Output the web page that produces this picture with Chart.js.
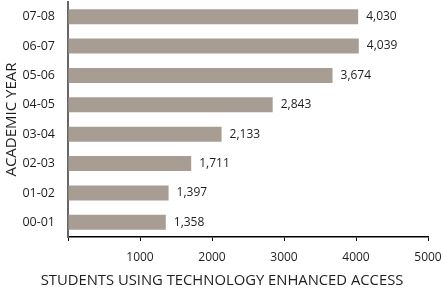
<!DOCTYPE html>
<html>
<head>
<meta charset="utf-8">
<script src="https://cdn.jsdelivr.net/npm/chart.js@4/dist/chart.umd.min.js"></script>
<style>
html,body{margin:0;padding:0;background:#fff;}
#wrap{width:444px;height:291px;position:relative;}
</style>
</head>
<body>
<div id="wrap"><canvas id="c"></canvas></div>
<script>
const categories = ['07-08','06-07','05-06','04-05','03-04','02-03','01-02','00-01'];
const students = [4030, 4039, 3674, 2843, 2133, 1711, 1397, 1358];
const xTicks = [0, 1000, 2000, 3000, 4000, 5000];

const FONT = "'Open Sans', 'Noto Sans', sans-serif";
const TEXT = '#1e1e1e';

const valueLabels = {
  id: 'valueLabels',
  afterDatasetsDraw(chart) {
    const ctx = chart.ctx;
    const meta = chart.getDatasetMeta(0);
    ctx.save();
    ctx.font = '12px ' + FONT;
    ctx.fillStyle = TEXT;
    ctx.textAlign = 'left';
    ctx.textBaseline = 'middle';
    meta.data.forEach((bar, i) => {
      ctx.fillText(students[i].toLocaleString('en-US'), bar.x + 8, bar.y);
    });
    ctx.restore();
  }
};

new Chart(document.getElementById('c'), {
  type: 'bar',
  data: {
    labels: categories,
    datasets: [{
      data: students,
      backgroundColor: '#a89d93',
      borderWidth: 0,
      barPercentage: 0.51,
      categoryPercentage: 1
    }]
  },
  plugins: [valueLabels],
  options: {
    indexAxis: 'y',
    responsive: true,
    maintainAspectRatio: false,
    animation: false,
    layout: { padding: { top: 2, right: 0, bottom: 0, left: 0 } },
    plugins: {
      legend: { display: false },
      tooltip: { enabled: false },
      title: {
        display: true, position: 'bottom',
        text: 'STUDENTS USING TECHNOLOGY ENHANCED ACCESS',
        color: TEXT, font: { family: FONT, size: 14.8, weight: 'normal' },
        padding: { top: 4, bottom: 1.5 }
      }
    },
    scales: {
      x: {
        min: 0, max: 5000,
        afterBuildTicks: s => { s.ticks = xTicks.map(v => ({ value: v })); },
        afterFit: s => { s.height = 30.7; s.paddingLeft = 0; s.paddingRight = 16; },
        grid: { display: true, drawOnChartArea: false, drawTicks: true, tickLength: 4, color: '#000', lineWidth: 1 },
        border: { display: true, color: '#000', width: 1.5 },
        ticks: {
          color: TEXT, font: { family: FONT, size: 12 }, padding: 9,
          callback: v => v === 0 ? '' : String(v)
        },
        title: { display: false }
      },
      y: {
        afterFit: s => { s.width = 68; s.paddingTop = 0; s.paddingBottom = 0; },
        grid: { display: false },
        border: { display: true, color: '#666', width: 2 },
        ticks: { color: TEXT, font: { family: FONT, size: 12.5 }, padding: 5 },
        title: {
          display: true, text: 'ACADEMIC YEAR',
          color: TEXT, font: { family: FONT, size: 15 }, padding: { top: 3, bottom: 4 }
        }
      }
    }
  }
});
</script>
</body>
</html>
